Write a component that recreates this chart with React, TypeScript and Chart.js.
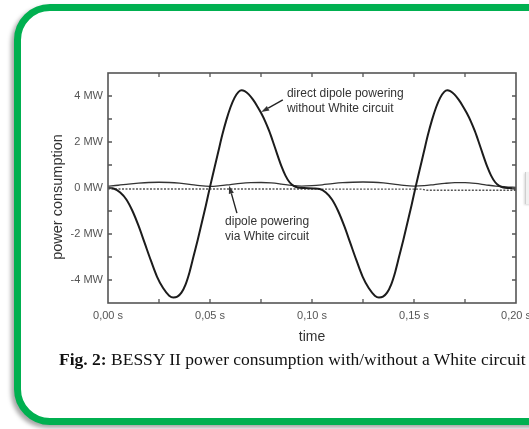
import React, { useEffect, useRef } from 'react';
import { Chart, registerables } from 'chart.js';

Chart.register(...registerables);

// ---- data (time in s, power in MW) ----
const directTime = [
  0, 0.003, 0.006, 0.009, 0.012, 0.015, 0.018, 0.021, 0.024, 0.027, 0.03, 0.032, 0.034, 0.036, 0.038,
  0.04, 0.042, 0.044, 0.046, 0.048, 0.05, 0.052, 0.054, 0.056, 0.058, 0.06, 0.062, 0.064, 0.0655,
  0.067, 0.069, 0.071, 0.073, 0.075, 0.077, 0.079, 0.081, 0.083, 0.085, 0.087, 0.089, 0.091, 0.093,
  0.096, 0.1008,
  0.1038, 0.1068, 0.1098, 0.1128, 0.1158, 0.1188, 0.1218, 0.1248, 0.1278, 0.1308, 0.1328, 0.1348,
  0.1368, 0.1388, 0.1408, 0.1428, 0.1448, 0.1468, 0.1488, 0.1508, 0.1528, 0.1548, 0.1568, 0.1588,
  0.1608, 0.1628, 0.1648, 0.1663, 0.1678, 0.1698, 0.1718, 0.1738, 0.1758, 0.1778, 0.1798, 0.1818,
  0.1838, 0.1858, 0.1878, 0.1898, 0.1918, 0.1938, 0.1968, 0.2,
];
const directPower = [
  0, -0.03, -0.2, -0.5, -1.0, -1.65, -2.4, -3.15, -3.85, -4.35, -4.68, -4.76, -4.72, -4.55, -4.2,
  -3.65, -2.95, -2.25, -1.5, -0.75, 0.05, 0.8, 1.55, 2.3, 2.95, 3.5, 3.92, 4.18, 4.25,
  4.21, 4.07, 3.85, 3.58, 3.27, 2.91, 2.48, 1.98, 1.45, 0.95, 0.54, 0.25, 0.09, 0.02,
  0.0, -0.02,
  -0.04, -0.2, -0.5, -1.0, -1.65, -2.4, -3.15, -3.85, -4.35, -4.68, -4.76, -4.72,
  -4.55, -4.2, -3.65, -2.95, -2.25, -1.5, -0.75, 0.05, 0.8, 1.55, 2.3, 2.95,
  3.5, 3.92, 4.18, 4.25, 4.21, 4.07, 3.85, 3.58, 3.27, 2.91, 2.48, 1.98,
  1.45, 0.95, 0.54, 0.25, 0.09, 0.02, 0.0, -0.03,
];

const whiteTime = [
  0, 0.005, 0.01, 0.015, 0.02, 0.025, 0.03, 0.035, 0.04, 0.045, 0.05, 0.055, 0.06, 0.065, 0.07,
  0.075, 0.08, 0.085, 0.09, 0.095, 0.1, 0.105, 0.11, 0.115, 0.12, 0.125, 0.13, 0.135, 0.14, 0.145,
  0.15, 0.155, 0.16, 0.165, 0.17, 0.175, 0.18, 0.185, 0.19, 0.195, 0.2,
];
const whitePower = [
  0.08, 0.12, 0.17, 0.21, 0.24, 0.25, 0.24, 0.21, 0.16, 0.1, 0.07, 0.1, 0.15, 0.2, 0.23,
  0.24, 0.22, 0.17, 0.11, 0.08, 0.1, 0.14, 0.19, 0.23, 0.25, 0.26, 0.25, 0.22, 0.17, 0.11,
  0.08, 0.1, 0.15, 0.2, 0.23, 0.23, 0.2, 0.14, 0.08, 0.05, 0.03,
];

const zeroTime = [0, 0.154, 0.156, 0.2];
const zeroPower = [-0.04, -0.05, -0.1, -0.1];

const xTickLabels = ['0,00 s', '0,05 s', '0,10 s', '0,15 s', '0,20 s'];
const yTickLabels = ['-4 MW', '-2 MW', '0 MW', '2 MW', '4 MW'];

const yTitle = 'power consumption';
const noteDirect = ['direct dipole powering', 'without White circuit'];
const noteWhite = ['dipole powering', 'via White circuit'];

const SANS = '"Liberation Sans", Arial, sans-serif';

const toPoints = (xs: number[], ys: number[]) => xs.map((x, i) => ({ x, y: ys[i] }));

function drawArrow(ctx: CanvasRenderingContext2D, x0: number, y0: number, x1: number, y1: number) {
  const ang = Math.atan2(y1 - y0, x1 - x0);
  const len = 8;
  const hw = 2.6;
  const bx = x1 - len * Math.cos(ang);
  const by = y1 - len * Math.sin(ang);
  ctx.beginPath();
  ctx.moveTo(x0, y0);
  ctx.lineTo(bx, by);
  ctx.stroke();
  ctx.beginPath();
  ctx.moveTo(x1, y1);
  ctx.lineTo(bx + hw * Math.sin(ang), by - hw * Math.cos(ang));
  ctx.lineTo(bx - hw * Math.sin(ang), by + hw * Math.cos(ang));
  ctx.closePath();
  ctx.fill();
}

const framePlugin = {
  id: 'frameAndNotes',
  afterDatasetsDraw(chart: any) {
    const { ctx, chartArea: a, scales } = chart;
    const xs = scales.x;
    const ys = scales.y;
    ctx.save();
    ctx.strokeStyle = '#555';
    ctx.lineWidth = 1.6;
    ctx.strokeRect(a.left, a.top, a.right - a.left, a.bottom - a.top);
    ctx.lineWidth = 1.3;
    ctx.beginPath();
    const tl = 4;
    xs.ticks.forEach((t: any) => {
      const px = xs.getPixelForValue(t.value);
      if (px <= a.left + 1 || px >= a.right - 1) return;
      ctx.moveTo(px, a.bottom);
      ctx.lineTo(px, a.bottom - tl);
      ctx.moveTo(px, a.top);
      ctx.lineTo(px, a.top + tl);
    });
    ys.ticks.forEach((t: any) => {
      const py = ys.getPixelForValue(t.value);
      if (py <= a.top + 1 || py >= a.bottom - 1) return;
      ctx.moveTo(a.left, py);
      ctx.lineTo(a.left + tl, py);
      ctx.moveTo(a.right, py);
      ctx.lineTo(a.right - tl, py);
    });
    ctx.stroke();

    // y-axis title (rotated)
    ctx.save();
    ctx.fillStyle = '#333';
    ctx.font = `14.5px ${SANS}`;
    ctx.textAlign = 'center';
    ctx.textBaseline = 'middle';
    ctx.translate(a.left - 50, (a.top + a.bottom) / 2 + 9);
    ctx.rotate(-Math.PI / 2);
    ctx.fillText(yTitle, 0, 0);
    ctx.restore();

    // annotations
    ctx.fillStyle = '#333';
    ctx.strokeStyle = '#222';
    ctx.font = `12px ${SANS}`;
    ctx.textBaseline = 'middle';
    ctx.textAlign = 'left';
    const t1x = xs.getPixelForValue(0.0877);
    ctx.fillText(noteDirect[0], t1x, ys.getPixelForValue(4.12));
    ctx.fillText(noteDirect[1], t1x, ys.getPixelForValue(3.46));
    const t2x = xs.getPixelForValue(0.0574);
    ctx.fillText(noteWhite[0], t2x, ys.getPixelForValue(-1.48));
    ctx.fillText(noteWhite[1], t2x, ys.getPixelForValue(-2.12));

    ctx.lineWidth = 1.4;
    drawArrow(ctx, xs.getPixelForValue(0.0857), ys.getPixelForValue(3.83),
      xs.getPixelForValue(0.0751), ys.getPixelForValue(3.3));
    drawArrow(ctx, xs.getPixelForValue(0.0632), ys.getPixelForValue(-1.09),
      xs.getPixelForValue(0.0594), ys.getPixelForValue(0.1));
    ctx.restore();
  },
};

export default function App() {
  const ref = useRef<HTMLCanvasElement | null>(null);

  useEffect(() => {
    if (!ref.current) return;
    const chart = new Chart(ref.current, {
      type: 'line',
      data: {
        datasets: [
          {
            label: 'direct',
            data: toPoints(directTime, directPower),
            borderColor: '#1c1c1c',
            borderWidth: 2,
            pointRadius: 0,
            cubicInterpolationMode: 'monotone',
            fill: false,
          },
          {
            label: 'white',
            data: toPoints(whiteTime, whitePower),
            borderColor: '#333',
            borderWidth: 1.3,
            pointRadius: 0,
            cubicInterpolationMode: 'monotone',
            fill: false,
          },
          {
            label: 'zero',
            data: toPoints(zeroTime, zeroPower),
            borderColor: '#555',
            borderWidth: 1.4,
            borderDash: [2, 1.5],
            pointRadius: 0,
            tension: 0,
            fill: false,
          },
        ],
      },
      options: {
        animation: false,
        responsive: false,
        events: [],
        layout: { padding: { left: 38, right: 44, top: 73, bottom: 81 } },
        plugins: { legend: { display: false }, tooltip: { enabled: false } },
        scales: {
          x: {
            type: 'linear',
            min: 0,
            max: 0.2,
            afterFit: (s: any) => { s.height = 45; },
            grid: { display: false, drawTicks: false },
            border: { display: false },
            ticks: {
              stepSize: 0.025,
              autoSkip: false,
              maxRotation: 0,
              padding: 6,
              color: '#555',
              font: { family: SANS, size: 11 },
              callback: (v: any) => {
                const k = Math.round(Number(v) / 0.025);
                return k % 2 === 0 ? xTickLabels[k / 2] : '';
              },
            },
            title: {
              display: true,
              text: 'time',
              color: '#333',
              padding: { top: 0, bottom: 2 },
              font: { family: SANS, size: 14 },
            },
          },
          y: {
            min: -5,
            max: 5,
            afterFit: (s: any) => { s.width = 70; },
            grid: { display: false, drawTicks: false },
            border: { display: false },
            ticks: {
              stepSize: 1,
              autoSkip: false,
              padding: 5,
              color: '#555',
              font: { family: SANS, size: 11 },
              callback: (v: any) => {
                const n = Math.round(Number(v));
                return n % 2 === 0 ? yTickLabels[(n + 4) / 2] ?? '' : '';
              },
            },
          },
        },
      },
      plugins: [framePlugin],
    } as any);
    return () => chart.destroy();
  }, []);

  return (
    <div style={{ position: 'fixed', left: 0, top: 0, width: 529, height: 429, overflow: 'hidden', background: '#fff' }}>
      <div
        style={{
          position: 'absolute', left: 14, top: 4, width: 580, height: 421, boxSizing: 'border-box',
          border: '7.5px solid #00b050', borderRadius: 36, background: '#fff',
          boxShadow: '-3px 3px 4px rgba(0,0,0,0.35)',
        }}
      />
      <div
        style={{
          position: 'absolute', left: 525, top: 172, width: 12, height: 32, background: '#f1f1f1',
          borderLeft: '1px solid #cfcfcf', boxShadow: '-1px 1px 2px rgba(0,0,0,0.15)',
        }}
      />
      <canvas ref={ref} width={560} height={429} style={{ position: 'absolute', left: 0, top: 0, width: 560, height: 429 }} />
      <div
        style={{
          position: 'absolute', left: 59, top: 349, whiteSpace: 'nowrap', lineHeight: '20px',
          fontFamily: '"Liberation Serif", "Times New Roman", serif', fontSize: 17.5, color: '#111',
        }}
      >
        <b>Fig. 2:</b> BESSY II power consumption with/without a White circuit
      </div>
    </div>
  );
}
